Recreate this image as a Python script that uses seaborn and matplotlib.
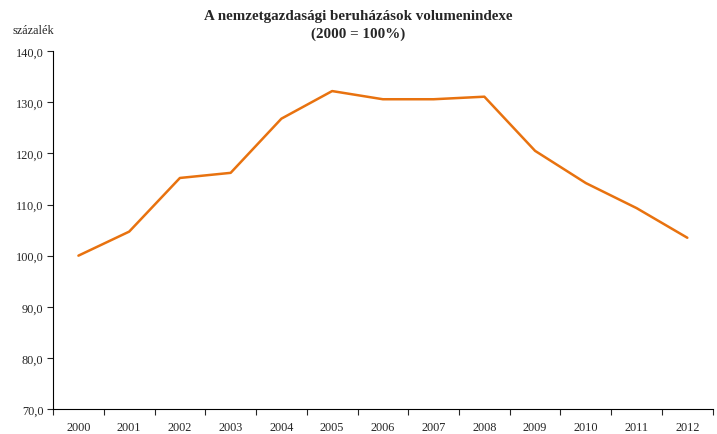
import numpy as np
import pandas as pd
import matplotlib
matplotlib.use("Agg")
import matplotlib.pyplot as plt
import seaborn as sns
from matplotlib.ticker import FuncFormatter, MultipleLocator

# --- adatok ---
evek = ["2000", "2001", "2002", "2003", "2004", "2005", "2006",
        "2007", "2008", "2009", "2010", "2011", "2012"]
index = [100.0, 104.7, 115.2, 116.2, 126.8, 132.2, 130.6,
         130.6, 131.1, 120.5, 114.2, 109.3, 103.5]

cim = "A nemzetgazdasági beruházások volumenindexe\n(2000 = 100%)"
y_felirat = "százalék"

sns.set_style("white")
plt.rcParams['font.family'] = ['Liberation Serif', 'DejaVu Serif']

df = pd.DataFrame({"pos": np.arange(len(evek)), "ertek": index})

fig = plt.figure(figsize=(7.17, 4.35), dpi=100)
ax = fig.add_axes([0.074, 0.0575, 0.920, 0.8225])

sns.lineplot(data=df, x="pos", y="ertek", ax=ax, color="#E8720F", linewidth=1.8)

ax.set_xlim(-0.5, len(evek) - 0.5)
ax.set_ylim(70, 140)
ax.yaxis.set_major_locator(MultipleLocator(10))
ax.yaxis.set_major_formatter(FuncFormatter(lambda v, p: f"{v:.1f}".replace(".", ",")))

ax.set_xticks(np.arange(len(evek)))
ax.set_xticklabels(evek)
ax.set_xticks(np.arange(-0.5, len(evek)), minor=True)
ax.tick_params(axis="x", which="major", length=0, pad=9, labelsize=8.8)
ax.tick_params(axis="x", which="minor", length=4, width=0.8, direction="out", bottom=True)
ax.tick_params(axis="y", length=4, width=0.8, direction="out", left=True, labelsize=8.8, pad=3)

for s in ["top", "right"]:
    ax.spines[s].set_visible(False)
for s in ["left", "bottom"]:
    ax.spines[s].set_color("black")
    ax.spines[s].set_linewidth(0.8)

ax.set_xlabel("")
ax.set_ylabel("")
ax.grid(False)

fig.text(0.5, 0.978, cim, ha="center", va="top", fontsize=10.8, fontweight="bold", linespacing=1.45)
fig.text(0.018, 0.928, y_felirat, ha="left", va="center", fontsize=8.8)

plt.savefig("out.png", dpi=100)
